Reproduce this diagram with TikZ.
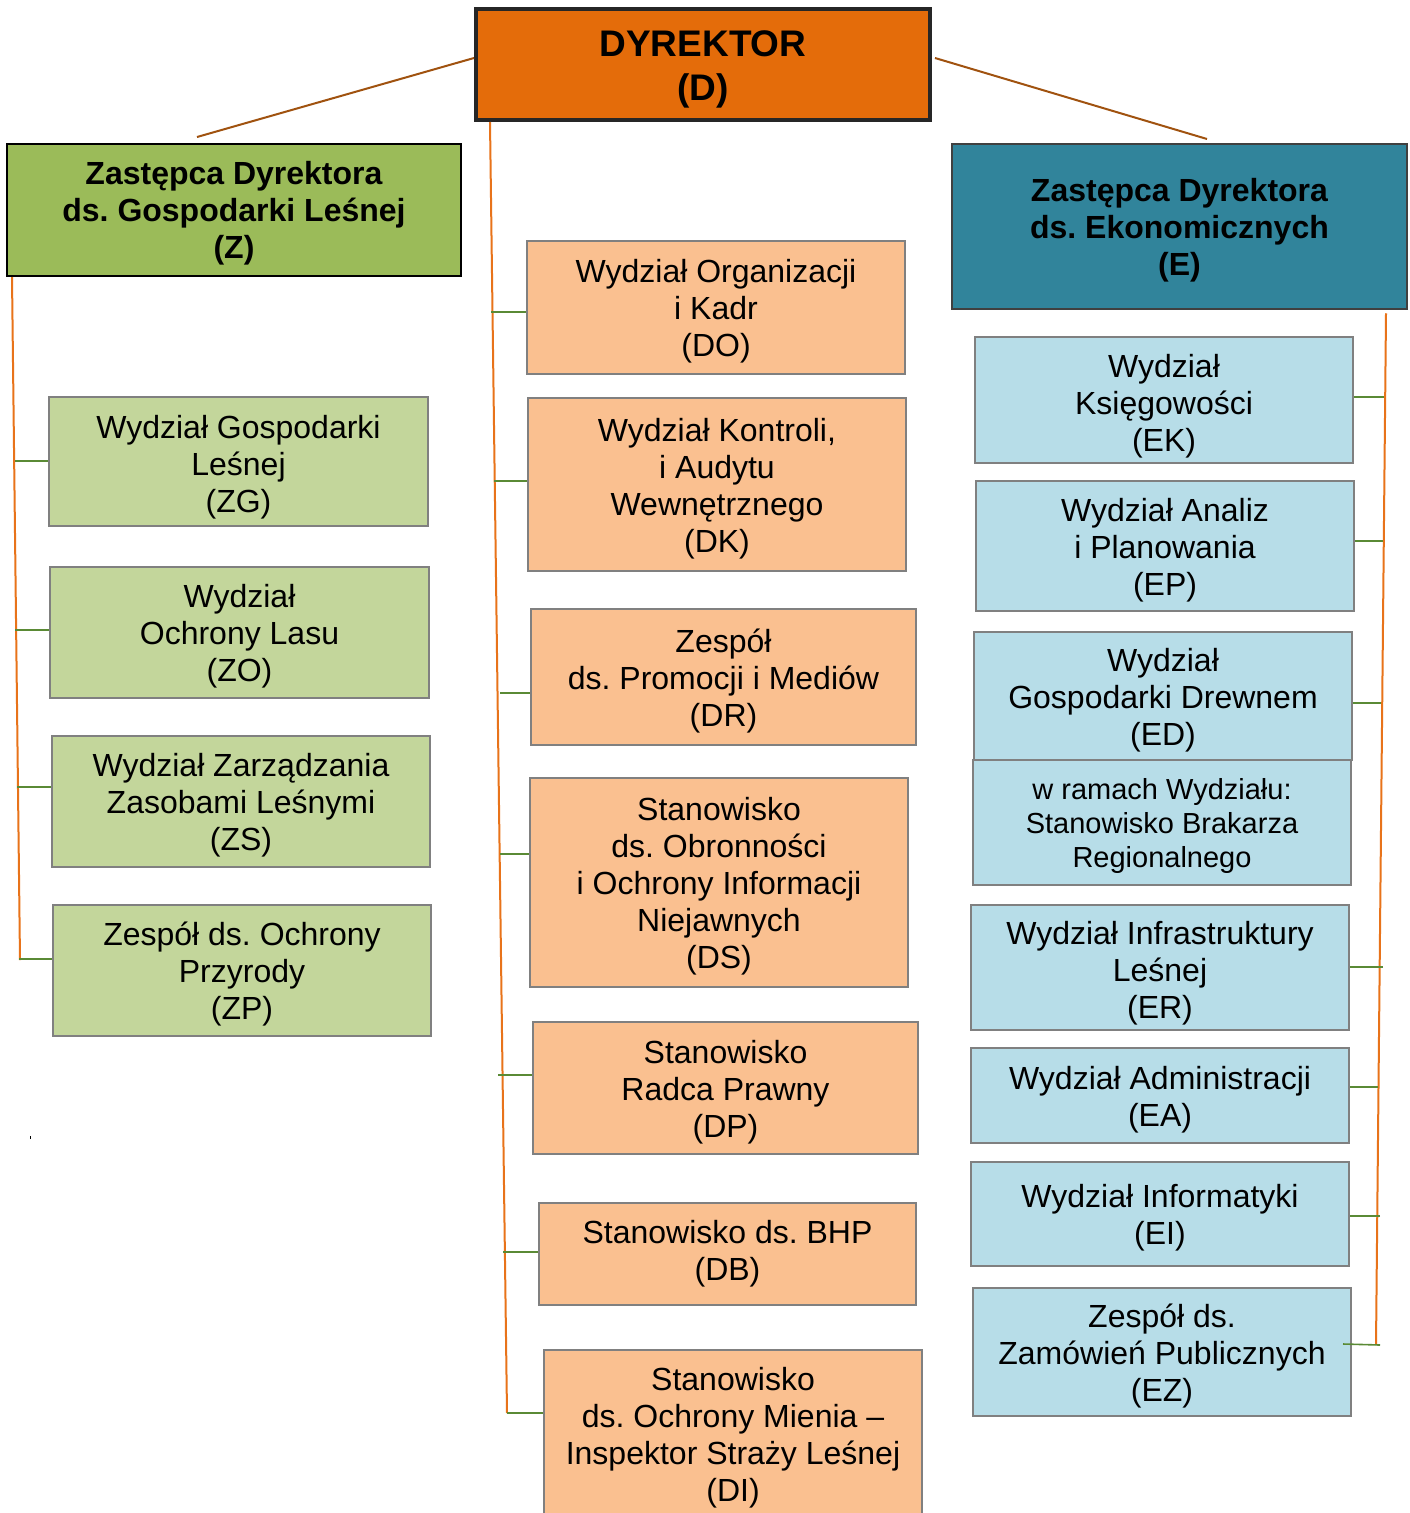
\documentclass[tikz,border=0pt]{standalone}
\usepackage{fontspec}
\setmainfont{Liberation Sans}
\frenchspacing
\newcommand\mystrut[1]{\rule{0pt}{#1pt}}
\definecolor{dirfill}{HTML}{E46C0A}
\definecolor{dirdraw}{HTML}{262626}
\definecolor{zfill}{HTML}{9BBB59}
\definecolor{efill}{HTML}{31849B}
\definecolor{edraw}{HTML}{404040}
\definecolor{lgreen}{HTML}{C3D69B}
\definecolor{lorange}{HTML}{FAC090}
\definecolor{lblue}{HTML}{B7DDE8}
\definecolor{boxgray}{HTML}{808080}
\definecolor{spinecol}{HTML}{E8731A}
\definecolor{stubcol}{HTML}{5A8A35}
\definecolor{topline}{HTML}{A0520F}
\tikzset{
  unitbox/.style={draw=boxgray, line width=2.5pt, align=center, inner sep=0pt,
    font=\fontsize{32}{37}\selectfont},
  greenbox/.style={unitbox, fill=lgreen},
  orangebox/.style={unitbox, fill=lorange},
  bluebox/.style={unitbox, fill=lblue},
  headbox/.style={align=center, inner sep=0pt, font=\fontsize{32}{37}\selectfont\bfseries},
  spine/.style={draw=spinecol, line width=2pt},
  stub/.style={draw=stubcol, line width=1.6pt},
  topconn/.style={draw=topline, line width=2pt},
}
\begin{document}
\begin{tikzpicture}[x=1pt,y=-1pt]
\useasboundingbox (0,0) rectangle (1409,1513);
\clip (0,0) rectangle (1409,1513);
% top level
\node[headbox, draw=dirdraw, line width=4pt, fill=dirfill, minimum width=454, minimum height=111,
  font=\fontsize{37}{44}\selectfont\bfseries] (D) at (703,64.5) {\mystrut{36}DYREKTOR\\(D)};
\node[headbox, draw=black, line width=2pt, fill=zfill, minimum width=454, minimum height=132] (Z) at (234,210)
  {\mystrut{29}Zastępca Dyrektora\\ds. Gospodarki Leśnej\\(Z)};
\node[headbox, draw=edraw, line width=2.5pt, fill=efill, minimum width=455, minimum height=165] (E) at (1179.5,226.5)
  {\mystrut{31}Zastępca Dyrektora\\ds. Ekonomicznych\\(E)};
% left column
\node[greenbox, minimum width=379, minimum height=129] (ZG) at (238.5,461.5) {\mystrut{34}Wydział Gospodarki\\Leśnej\\(ZG)};
\node[greenbox, minimum width=379, minimum height=131] (ZO) at (239.5,632.5) {\mystrut{31}Wydział\\Ochrony Lasu\\(ZO)};
\node[greenbox, minimum width=378, minimum height=131] (ZS) at (241,801.5) {\mystrut{31}Wydział Zarządzania\\Zasobami Leśnymi\\(ZS)};
\node[greenbox, minimum width=378, minimum height=131] (ZP) at (242,970.5) {\mystrut{31}Zespół ds. Ochrony\\Przyrody\\(ZP)};
% centre column
\node[orangebox, minimum width=378, minimum height=133] (DO) at (716,307.5) {\mystrut{31}Wydział Organizacji\\i Kadr\\(DO)};
\node[orangebox, minimum width=378, minimum height=173] (DK) at (717,484.5) {\mystrut{31}Wydział Kontroli,\\i Audytu\\Wewnętrznego\\(DK)};
\node[orangebox, minimum width=385, minimum height=136] (DR) at (723.5,677) {\mystrut{31}Zespół\\ds. Promocji i Mediów\\(DR)};
\node[orangebox, minimum width=378, minimum height=209] (DS) at (719,882.5) {\mystrut{31}Stanowisko\\ds. Obronności\\i Ochrony Informacji\\Niejawnych\\(DS)};
\node[orangebox, minimum width=385, minimum height=132] (DP) at (725.5,1088) {\mystrut{31}Stanowisko\\Radca Prawny\\(DP)};
\node[orangebox, minimum width=377, minimum height=102] (DB) at (727.5,1254) {Stanowisko ds. BHP\\(DB)};
\node[orangebox, minimum width=378, minimum height=170] (DI) at (733,1435) {\mystrut{29}Stanowisko\\ds. Ochrony Mienia –\\Inspektor Straży Leśnej\\(DI)};
% right column
\node[bluebox, minimum width=378, minimum height=126] (EK) at (1164,400) {\mystrut{35}Wydział\\Księgowości\\(EK)};
\node[bluebox, minimum width=378, minimum height=130] (EP) at (1165,546) {\mystrut{31}Wydział Analiz\\i Planowania\\(EP)};
\node[bluebox, minimum width=378, minimum height=128] (ED) at (1163,696) {\mystrut{31}Wydział\\Gospodarki Drewnem\\(ED)};
\node[bluebox, minimum width=378, minimum height=125, font=\fontsize{29}{34}\selectfont] (EDs) at (1162,822.5)
  {\mystrut{27}w ramach Wydziału:\\Stanowisko Brakarza\\Regionalnego};
\node[bluebox, minimum width=378, minimum height=125] (ER) at (1160,967.5) {\mystrut{34}Wydział Infrastruktury\\Leśnej\\(ER)};
\node[bluebox, minimum width=378, minimum height=95] (EA) at (1160,1095.5) {\mystrut{31}Wydział Administracji\\(EA)};
\node[bluebox, minimum width=378, minimum height=104] (EI) at (1160,1214) {\mystrut{31}Wydział Informatyki\\(EI)};
\node[bluebox, minimum width=378, minimum height=128] (EZ) at (1162,1352) {\mystrut{32}Zespół ds.\\Zamówień Publicznych\\(EZ)};
% connectors from director
\draw[topconn] (D.west |- 0,58) -- (197,137) coordinate (Ztop);
\draw[topconn] (935,58) coordinate (Dright) -- (1207,139) coordinate (Etop);
% spines
\coordinate (Zend) at (20,960);
\coordinate (Dend) at (507,1413);
\coordinate (Eend) at (1376,1345);
\draw[spine] (Z.south west -| 12,0) -- (Zend);
\draw[spine] (D.south west -| 490,0) -- (Dend);
\draw[spine] (E.south east -| 1386,0) ++(0,3) -- (Eend);
% stubs left
\draw[stub] (15,461) -- (ZG.west |- 0,461);
\draw[stub] (15,630) -- (ZO.west |- 0,630);
\draw[stub] (17,787) -- (ZS.west |- 0,787);
\draw[stub] (19,959) -- (ZP.west |- 0,959);
% stubs centre
\draw[stub] (491,312) -- (DO.west |- 0,312);
\draw[stub] (494,481) -- (DK.west |- 0,481);
\draw[stub] (500,693) -- (DR.west |- 0,693);
\draw[stub] (500,854) -- (DS.west |- 0,854);
\draw[stub] (498,1075) -- (DP.west |- 0,1075);
\draw[stub] (503,1252) -- (DB.west |- 0,1252);
\draw[stub] (Dend) -- (DI.west |- 0,1413);
% stubs right
\draw[stub] (1384,397) -- (EK.east |- 0,397);
\draw[stub] (1383,541) -- (EP.east |- 0,541);
\draw[stub] (1381,703) -- (ED.east |- 0,703);
\draw[stub] (1383,967) -- (ER.east |- 0,967);
\draw[stub] (1378,1087) -- (EA.east |- 0,1087);
\draw[stub] (1380,1216) -- (EI.east |- 0,1216);
\draw[stub] (1380,1345) -- (1343,1344);
% tiny mark
\fill (29.5,1136) rectangle (30.7,1138.5);
\end{tikzpicture}
\end{document}
